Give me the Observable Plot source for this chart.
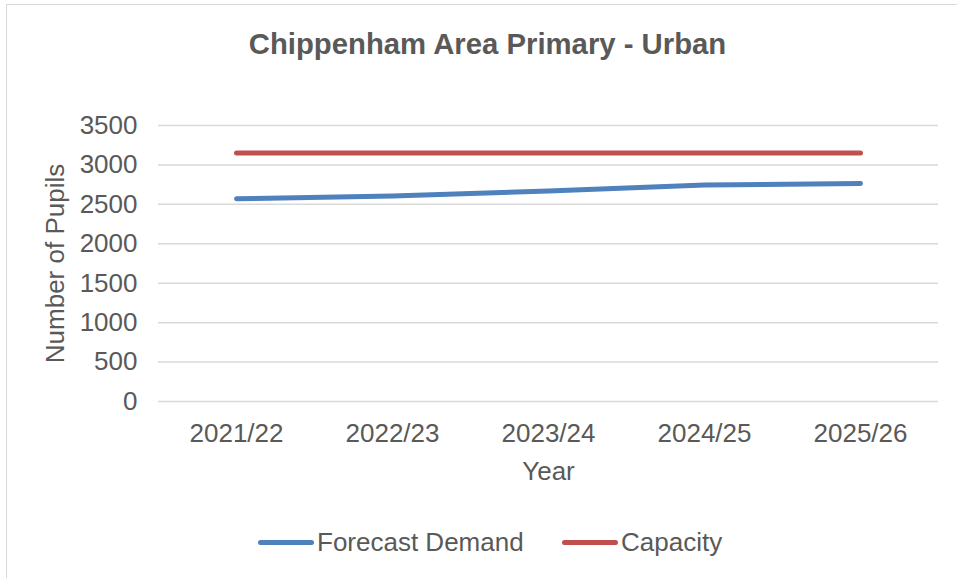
<!DOCTYPE html>
<html>
<head>
<meta charset="utf-8">
<script src="https://cdn.jsdelivr.net/npm/d3@7"></script>
<script src="https://cdn.jsdelivr.net/npm/@observablehq/plot@0.6"></script>
<style>
  html, body { margin: 0; padding: 0; background: #fff; }
  #wrap { position: relative; width: 957px; height: 578px; overflow: hidden; font-family: "Liberation Sans", Arial, sans-serif; color: #595959; }
  #frame { position: absolute; left: 6px; top: 4px; width: 1000px; height: 700px; border-left: 1.5px solid #D9D9D9; border-top: 1.5px solid #D9D9D9; }
  #title { position: absolute; left: 0; width: 975px; top: 26px; text-align: center; font-weight: bold; font-size: 29.3px; line-height: 36px; color: #595959; }
  #chart { position: absolute; left: 0; top: 80px; }
  #legend { position: absolute; top: 524px; left: 0; width: 957px; height: 36px; }
  .item { position: absolute; top: 0; display: flex; align-items: center; font-size: 26px; line-height: 36px; }
  .swatch { display: inline-block; width: 56px; height: 5px; border-radius: 3px; margin-right: 3px; }
</style>
</head>
<body>
<div id="wrap">
  <div id="frame"></div>
  <div id="title">Chippenham Area Primary - Urban</div>
  <div id="chart"></div>
  <div id="legend"></div>
</div>
<script>
const years = ["2021/22", "2022/23", "2023/24", "2024/25", "2025/26"];
const demand = [2571, 2605, 2670, 2745, 2765];
const capacity = [3150, 3150, 3150, 3150, 3150];
const seriesNames = ["Forecast Demand", "Capacity"];
const seriesColors = ["#4F81BD", "#C0504D"];
const yTicks = [0, 500, 1000, 1500, 2000, 2500, 3000, 3500];

const data = [];
years.forEach((yr, i) => {
  data.push({year: yr, series: seriesNames[0], value: demand[i]});
});
years.forEach((yr, i) => {
  data.push({year: yr, series: seriesNames[1], value: capacity[i]});
});

const plot = Plot.plot({
  width: 957,
  height: 420,
  marginTop: 45,
  marginBottom: 99,
  marginLeft: 158,
  marginRight: 19,
  style: {fontFamily: "'Liberation Sans', Arial, sans-serif", fontSize: "26px", color: "#595959", background: "transparent", overflow: "visible"},
  x: {type: "point", domain: years, padding: 0.5},
  y: {domain: [0, 3500]},
  color: {domain: seriesNames, range: seriesColors},
  marks: [
    Plot.gridY(yTicks, {stroke: "#D9D9D9", strokeOpacity: 1, strokeWidth: 1.5}),
    Plot.axisY(yTicks, {tickSize: 0, tickPadding: 21, fill: "#595959", tickFormat: d => String(d), label: "Number of Pupils", labelAnchor: "center", labelOffset: 113, labelArrow: "none"}),
    Plot.axisX({tickSize: 0, tickPadding: 22, fill: "#595959", label: "Year", labelAnchor: "center", labelOffset: 78, labelArrow: "none"}),
    Plot.lineY(data, {x: "year", y: "value", stroke: "series", z: "series", strokeWidth: 5, strokeLinecap: "round", strokeLinejoin: "round"})
  ]
});
document.getElementById("chart").appendChild(plot);

const legend = document.getElementById("legend");
const lefts = [258, 562];
seriesNames.forEach((name, i) => {
  const item = document.createElement("div");
  item.className = "item";
  item.style.left = lefts[i] + "px";
  const sw = document.createElement("span");
  sw.className = "swatch";
  sw.style.background = seriesColors[i];
  item.appendChild(sw);
  item.appendChild(document.createTextNode(name));
  legend.appendChild(item);
});
</script>
</body>
</html>
